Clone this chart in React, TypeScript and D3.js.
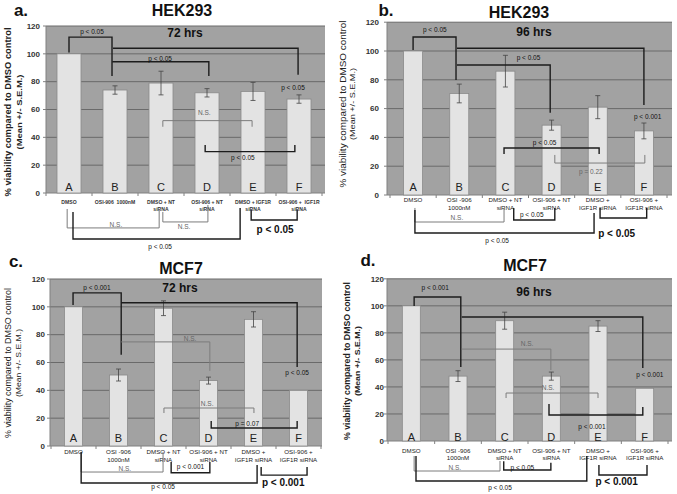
import React from 'react';
import * as d3 from 'd3';

// ---------- data ----------
const categories = ['A', 'B', 'C', 'D', 'E', 'F'];
const yTicks = [0, 20, 40, 60, 80, 100, 120];

const labelsHek72 = [['DMSO'], ['OSI-906  1000nM'], ['DMSO + NT', 'siRNA'], ['OSI-906 + NT', 'siRNA'], ['DMSO + IGF1R', 'siRNA'], ['OSI-906 +  IGF1R', 'siRNA']];
const labelsOther = [['DMSO'], ['OSI -906', '1000nM'], ['DMSO + NT', 'siRNA'], ['OSI-906 + NT', 'siRNA'], ['DMSO +', 'IGF1R siRNA'], ['OSI-906 +', 'IGF1R siRNA']];

const hek72Values = [100, 74, 79, 72, 73, 67.5];
const hek72Errors = [0, 3, 8.5, 3, 6.5, 3];
const hek96Values = [100, 70.5, 86, 48.5, 61, 44.5];
const hek96Errors = [0, 6.5, 11, 3.5, 8, 5.5];
const mcf72Values = [100, 51, 99, 47, 91, 40];
const mcf72Errors = [0, 4.3, 5.3, 2.5, 5.5, 0];
const mcf96Values = [100, 48, 89, 48, 85, 39];
const mcf96Errors = [0, 4, 6.3, 3, 4, 0];

// significance brackets: a/b = category positions, y = bar level, ya/yb = arm ends (data units)
const hek72Brackets = [
  { a: 0.0, b: 0.935, y: 112, ya: 101, yb: 84, t: 'p < 0.05', tx: 0.5, ty: 115.7, c: 'k' },
  { a: 0.957, b: 4.98, y: 104, ya: 104, yb: 85, t: 'p < 0.05', tx: 4.87, ty: 76, c: 'k' },
  { a: 0.94, b: 3.04, y: 94.3, ya: 94.3, yb: 84, t: 'p < 0.05', tx: 1.98, ty: 96.8, c: 'k' },
  { a: 2.04, b: 3.98, y: 52, ya: 47.6, yb: 47.6, t: 'N.S.', tx: 2.94, ty: 57.5, c: 'g' },
  { a: 2.96, b: 4.91, y: 29.7, ya: 34.5, yb: 34.5, t: 'p < 0.05', tx: 3.78, ty: 25.4, c: 'k' },
  { a: -0.04, b: 1.96, y: -25.1, ya: -11.5, yb: -12.2, t: 'N.S.', tx: 1.02, ty: -23, c: 'g' },
  { a: 2.04, b: 3.02, y: -20.8, ya: -13.6, yb: -8.6, t: 'N.S.', tx: 2.5, ty: -24.2, c: 'g' },
  { a: 0.087, b: 3.72, y: -33, ya: -13.6, yb: -10.8, t: 'p < 0.05', tx: 1.98, ty: -38.5, c: 'k' },
  { a: 3.96, b: 4.96, y: -19.4, ya: -12.2, yb: -12.2, t: 'p < 0.05', tx: 4.48, ty: -25.9, c: 'K' },
];
const hek96Brackets = [
  { a: 0, b: 0.93, y: 109.7, ya: 100.7, yb: 79.9, t: 'p < 0.05', tx: 0.47, ty: 114.6, c: 'k' },
  { a: 0.95, b: 5.0, y: 101.9, ya: 101.9, yb: 62.5, t: 'p < 0.001', tx: 5.08, ty: 54.2, c: 'k' },
  { a: 0.95, b: 2.97, y: 90.3, ya: 90.3, yb: 57.2, t: 'p < 0.05', tx: 2.5, ty: 95.6, c: 'k' },
  { a: 1.97, b: 4.03, y: 32.6, ya: 28.5, yb: 28.5, t: 'p < 0.05', tx: 2.85, ty: 36.1, c: 'k' },
  { a: 3.07, b: 5.02, y: 22.2, ya: 27.8, yb: 27.8, t: 'p = 0.22', tx: 3.85, ty: 16, c: 'g' },
  { a: 0.04, b: 1.97, y: -18.75, ya: -9, yb: -9, t: 'N.S.', tx: 0.95, ty: -16, c: 'g' },
  { a: 2.18, b: 3.07, y: -17.4, ya: -9, yb: -9, t: 'p < 0.05', tx: 2.57, ty: -13.9, c: 'k' },
  { a: 0.04, b: 3.92, y: -26.4, ya: -10.4, yb: -12.5, t: 'p < 0.05', tx: 1.82, ty: -32, c: 'k' },
  { a: 4.05, b: 5.06, y: -16, ya: -9, yb: -9, t: 'p < 0.05', tx: 4.41, ty: -26.4, c: 'K' },
];
const mcf72Brackets = [
  { a: -0.01, b: 1.06, y: 110, ya: 101.4, yb: 65.5, t: 'p < 0.001', tx: 0.52, ty: 113.7, c: 'k' },
  { a: 1.06, b: 4.97, y: 102.9, ya: 102.9, yb: 56.8, t: 'p < 0.05', tx: 4.97, ty: 52.5, c: 'k' },
  { a: 1.06, b: 3.03, y: 74.8, ya: 74.8, yb: 54, t: 'N.S.', tx: 2.59, ty: 77, c: 'g' },
  { a: 2.01, b: 4.01, y: 27.3, ya: 23.7, yb: 23.7, t: 'N.S.', tx: 2.97, ty: 30.2, c: 'g' },
  { a: 3.06, b: 4.97, y: 12.9, ya: 18, yb: 18, t: 'p = 0.07', tx: 3.86, ty: 15.8, c: 'k' },
  { a: 0.17, b: 1.99, y: -18.7, ya: -4.3, yb: -4.3, t: 'N.S.', tx: 1.14, ty: -16.5, c: 'g' },
  { a: 2.17, b: 3.03, y: -19.2, ya: -11.5, yb: -11.5, t: 'p < 0.001', tx: 2.6, ty: -14.9, c: 'k' },
  { a: 0.17, b: 4.08, y: -26.6, ya: -4.3, yb: -13.7, t: 'p < 0.05', tx: 1.99, ty: -29.5, c: 'k' },
  { a: 4.17, b: 5.19, y: -20.9, ya: -15.1, yb: -15.1, t: 'p < 0.001', tx: 4.66, ty: -25.9, c: 'K' },
];
const mcf96Brackets = [
  { a: 0.06, b: 1.06, y: 106.5, ya: 99.9, yb: 54.7, t: 'p < 0.001', tx: 0.51, ty: 113.2, c: 'k' },
  { a: 1.08, b: 4.96, y: 91.7, ya: 91.7, yb: 54, t: 'p < 0.001', tx: 5.11, ty: 48.8, c: 'k' },
  { a: 1.08, b: 2.99, y: 68, ya: 68, yb: 52.5, t: 'N.S.', tx: 2.48, ty: 71.7, c: 'g' },
  { a: 2.03, b: 4.0, y: 35.5, ya: 31.8, yb: 31.8, t: 'N.S.', tx: 2.93, ty: 39.2, c: 'g' },
  { a: 2.95, b: 4.96, y: 19.2, ya: 27.4, yb: 25.1, t: 'p < 0.001', tx: 3.87, ty: 10.4, c: 'k' },
  { a: 0.06, b: 1.9, y: -22.2, ya: -11.1, yb: -14.8, t: 'N.S.', tx: 0.93, ty: -20, c: 'g' },
  { a: 1.98, b: 2.99, y: -21.4, ya: -15, yb: -16, t: 'p < 0.05', tx: 2.38, ty: -19.8, c: 'k' },
  { a: 0.1, b: 3.76, y: -29.6, ya: -11.1, yb: -11.1, t: 'p < 0.05', tx: 1.9, ty: -34.8, c: 'k' },
  { a: 4.02, b: 5.05, y: -25.1, ya: -17.8, yb: -17.8, t: 'p < 0.001', tx: 4.4, ty: -30.3, c: 'K' },
];

const FONT = 'Liberation Sans, Arial, Helvetica, sans-serif';
const BG = '#a2a2a2';
const GRID = '#6a6a6a';
const BAR = '#e3e3e3';

type Cfg = {
  bandL: number; bandR: number; bgL: number; bgR: number; y0: number; y120: number; barW: number;
  tag: string; tagX: number; tagY: number; title: string; titleX: number; titleY: number;
  time: string; timeX: number; timeY: number; letterY: number; labelY: number; labelGap: number; tickX: number;
  yt1: number; yt2: number; ytC: number; ytL1: number; ytL2: number; ytBold: boolean; condensed: boolean;
};

function Panel({ cfg, values, errors, brackets, labels }: any) {
  const c: Cfg = cfg;
  const x = d3.scaleLinear().domain([-0.5, 5.5]).range([c.bandL, c.bandR]);
  const y = d3.scaleLinear().domain([0, 120]).range([c.y0, c.y120]);
  const line = d3.line<[number, number]>();
  return (
    <g fontFamily={FONT}>
      {/* plot background */}
      <rect x={c.bgL} y={y(120)} width={c.bgR - c.bgL} height={y(0) - y(120)} fill={BG} />
      {yTicks.slice(1).map((t) => (
        <line key={t} x1={c.bgL} x2={c.bgR} y1={y(t)} y2={y(t)} stroke={GRID} strokeWidth={1} />
      ))}
      {/* axes */}
      <line x1={c.bgL} x2={c.bgL} y1={y(120)} y2={y(0)} stroke="#808080" strokeWidth={1} />
      <line x1={c.bgL} x2={c.bgR} y1={y(0)} y2={y(0)} stroke="#808080" strokeWidth={1} />
      {yTicks.map((t) => (
        <g key={t}>
          <line x1={c.bgL - 3} x2={c.bgL} y1={y(t)} y2={y(t)} stroke="#808080" />
          <text x={c.tickX} y={y(t)} dy="0.35em" textAnchor="end" fontSize={8} fontWeight="bold" fill="#333">{t}</text>
        </g>
      ))}
      {d3.range(7).map((k) => (
        <line key={k} x1={x(k - 0.5)} x2={x(k - 0.5)} y1={y(0)} y2={y(0) + 3} stroke="#808080" />
      ))}
      {/* bars */}
      {categories.map((cat, i) => (
        <g key={cat}>
          <rect x={x(i) - c.barW / 2} y={y(values[i])} width={c.barW} height={y(0) - y(values[i])} fill={BAR} stroke="#8a8a8a" strokeWidth={0.8} />
          {errors[i] > 0 && (
            <g stroke="#444" strokeWidth={0.8}>
              <line x1={x(i)} x2={x(i)} y1={y(values[i] - errors[i])} y2={y(values[i] + errors[i])} />
              <line x1={x(i) - 2.5} x2={x(i) + 2.5} y1={y(values[i] - errors[i])} y2={y(values[i] - errors[i])} />
              <line x1={x(i) - 2.5} x2={x(i) + 2.5} y1={y(values[i] + errors[i])} y2={y(values[i] + errors[i])} />
            </g>
          )}
          <text x={x(i)} y={c.letterY} dy="0.35em" textAnchor="middle" fontSize={11} fill="#222">{cat}</text>
          {labels[i].map((s: string, j: number) => (
            c.condensed ? (
              <text key={j} transform={`translate(${x(i)},${c.labelY + j * c.labelGap}) scale(0.85,1)`} dy="0.35em" textAnchor="middle" fontSize={6} fontWeight="bold" fill="#333" style={{ whiteSpace: 'pre' }}>{s}</text>
            ) : (
              <text key={j} x={x(i)} y={c.labelY + j * c.labelGap} dy="0.35em" textAnchor="middle" fontSize={6.2} fill="#222" style={{ whiteSpace: 'pre' }}>{s}</text>
            )
          ))}
        </g>
      ))}
      {/* brackets */}
      {brackets.map((b: any, k: number) => {
        const col = b.c === 'g' ? '#7c7c7c' : '#1c1c1c';
        const pts: [number, number][] = [[x(b.a), y(b.ya)], [x(b.a), y(b.y)], [x(b.b), y(b.y)], [x(b.b), y(b.yb)]];
        return (
          <g key={k}>
            <path d={line(pts) || ''} fill="none" stroke={col} strokeWidth={b.c === 'g' ? 1 : 1.4} />
            <text x={x(b.tx)} y={y(b.ty)} dy="0.35em" textAnchor="middle" fontSize={b.c === 'K' ? 10 : 6.5} fontWeight={b.c === 'K' ? 'bold' : 'normal'} fill={b.c === 'g' ? '#666' : '#111'}>{b.t}</text>
          </g>
        );
      })}
      {/* titles */}
      <text x={c.tagX} y={c.tagY} dy="0.35em" textAnchor="middle" fontSize={17} fontWeight="bold" fill="#111">{c.tag}</text>
      <text x={c.titleX} y={c.titleY} dy="0.35em" textAnchor="middle" fontSize={16} fontWeight="bold" fill="#111">{c.title}</text>
      <text x={c.timeX} y={c.timeY} dy="0.35em" textAnchor="middle" fontSize={12} fontWeight="bold" fill="#111">{c.time}</text>
      <g transform={`translate(${c.yt1},${c.ytC}) rotate(-90)`}>
        <text dy="0.35em" textAnchor="middle" fontSize={9} fontWeight={c.ytBold ? 'bold' : 'normal'} fill="#222" textLength={c.ytL1} lengthAdjust="spacingAndGlyphs">% viability compared to DMSO control</text>
      </g>
      <g transform={`translate(${c.yt2},${c.ytC}) rotate(-90)`}>
        <text dy="0.35em" textAnchor="middle" fontSize={7.5} fontWeight={c.ytBold ? 'bold' : 'normal'} fill="#222" textLength={c.ytL2} lengthAdjust="spacingAndGlyphs">(Mean +/- S.E.M.)</text>
      </g>
    </g>
  );
}

const cfgA: Cfg = { bandL: 46, bandR: 322, bgL: 46, bgR: 325, y0: 193, y120: 26, barW: 24, tag: 'a.', tagX: 21, tagY: 10, title: 'HEK293', titleX: 182, titleY: 10, time: '72 hrs', timeX: 185, timeY: 33, letterY: 187, labelY: 202, labelGap: 6.5, tickX: 40, yt1: 8, yt2: 19, ytC: 112, ytL1: 169, ytL2: 75, ytBold: true, condensed: true };
const cfgB: Cfg = { bandL: 390, bandR: 667, bgL: 387, bgR: 672, y0: 195, y120: 22.2, barW: 19, tag: 'b.', tagX: 386, tagY: 10, title: 'HEK293', titleX: 519, titleY: 12, time: '96 hrs', timeX: 534, timeY: 32, letterY: 187, labelY: 200, labelGap: 8, tickX: 379, yt1: 343, yt2: 352, ytC: 104, ytL1: 167, ytL2: 72, ytBold: false, condensed: false };
const cfgC: Cfg = { bandL: 51, bandR: 321, bgL: 50, bgR: 322, y0: 446, y120: 279, barW: 18, tag: 'c.', tagX: 16, tagY: 261, title: 'MCF7', titleX: 181, titleY: 268, time: '72 hrs', timeX: 180, timeY: 288, letterY: 438, labelY: 452, labelGap: 7.7, tickX: 45, yt1: 8, yt2: 18, ytC: 363, ytL1: 150, ytL2: 68, ytBold: false, condensed: false };
const cfgD: Cfg = { bandL: 388, bandR: 668, bgL: 387, bgR: 672, y0: 441, y120: 278.8, barW: 18, tag: 'd.', tagX: 368, tagY: 260, title: 'MCF7', titleX: 525, titleY: 265, time: '96 hrs', timeX: 534, timeY: 292, letterY: 437, labelY: 451, labelGap: 6.8, tickX: 384, yt1: 347, yt2: 357, ytC: 361, ytL1: 158, ytL2: 70, ytBold: true, condensed: false };

export default function App() {
  return (
    <svg width={677} height={494} style={{ position: 'absolute', left: 0, top: 0, background: '#fff' }}>
      <rect width={677} height={494} fill="#fff" />
      <Panel cfg={cfgA} values={hek72Values} errors={hek72Errors} brackets={hek72Brackets} labels={labelsHek72} />
      <Panel cfg={cfgB} values={hek96Values} errors={hek96Errors} brackets={hek96Brackets} labels={labelsOther} />
      <Panel cfg={cfgC} values={mcf72Values} errors={mcf72Errors} brackets={mcf72Brackets} labels={labelsOther} />
      <Panel cfg={cfgD} values={mcf96Values} errors={mcf96Errors} brackets={mcf96Brackets} labels={labelsOther} />
    </svg>
  );
}
